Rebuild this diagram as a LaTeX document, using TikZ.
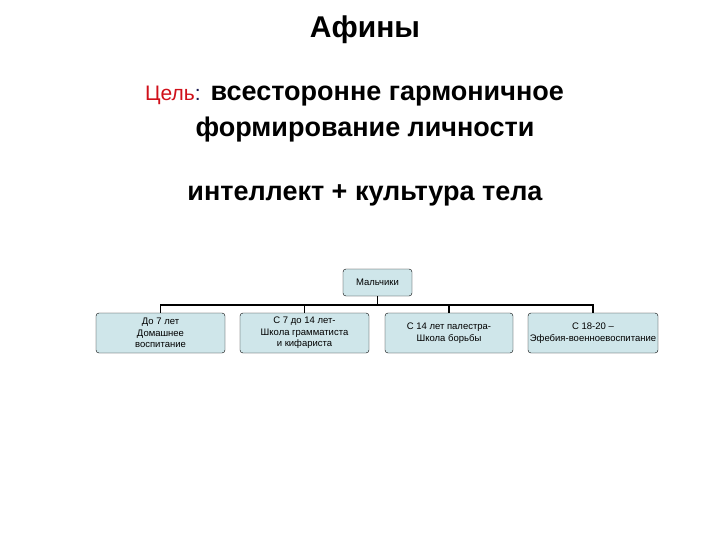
\documentclass[tikz,border=0pt]{standalone}
\usepackage{fontspec}
\setmainfont{Liberation Sans}
\begin{document}
\begin{tikzpicture}[x=1pt,y=-1pt,
  box/.style={draw=black,fill=boxfill,rounded corners=3pt,align=center,font=\fontsize{9.5}{11.5}\selectfont,inner sep=0pt},
  link/.style={draw=black,line width=1.2pt}]
\definecolor{boxfill}{HTML}{CFE6EA}
\definecolor{goal}{HTML}{D0101A}
\definecolor{navy}{HTML}{1A1A50}
\useasboundingbox (0,0) rectangle (720,540);
\node[font=\bfseries\fontsize{30}{34}\selectfont] (t) at (365,30) {Афины};
\node[anchor=west,font=\fontsize{27}{30}\selectfont,inner sep=0pt] (g) at (145,96) {{\color{goal}\fontsize{21}{24}\selectfont Цель}{\color{navy}\fontsize{21}{24}\selectfont :} \textbf{всесторонне гармоничное}};
\node[font=\bfseries\fontsize{27}{30}\selectfont] (g2) at (365,130) {формирование личности};
\node[font=\bfseries\fontsize{27}{30}\selectfont] (i) at (365,195) {интеллект + культура тела};
\node[box,minimum width=69pt,minimum height=27pt] (m) at (377.5,282.5) {Мальчики};
\node[box,minimum width=129pt,minimum height=40pt] (b1) at (160.5,333) {До 7 лет\\Домашнее\\воспитание};
\node[box,minimum width=129pt,minimum height=40pt] (b2) at (304.5,333) {С 7 до 14 лет-\\Школа грамматиста\\и кифариста};
\node[box,minimum width=128pt,minimum height=40pt] (b3) at (449,333) {С 14 лет палестра-\\Школа борьбы};
\node[box,minimum width=130pt,minimum height=40pt] (b4) at (593,333) {С 18-20 –\\Эфебия-военноевоспитание};
\coordinate (j) at (377.5,305);
\draw[link] (m.south) -- (j);
\foreach \b in {b1,b2,b3,b4}{\draw[link] (j) -| (\b.north);}
\end{tikzpicture}
\end{document}
